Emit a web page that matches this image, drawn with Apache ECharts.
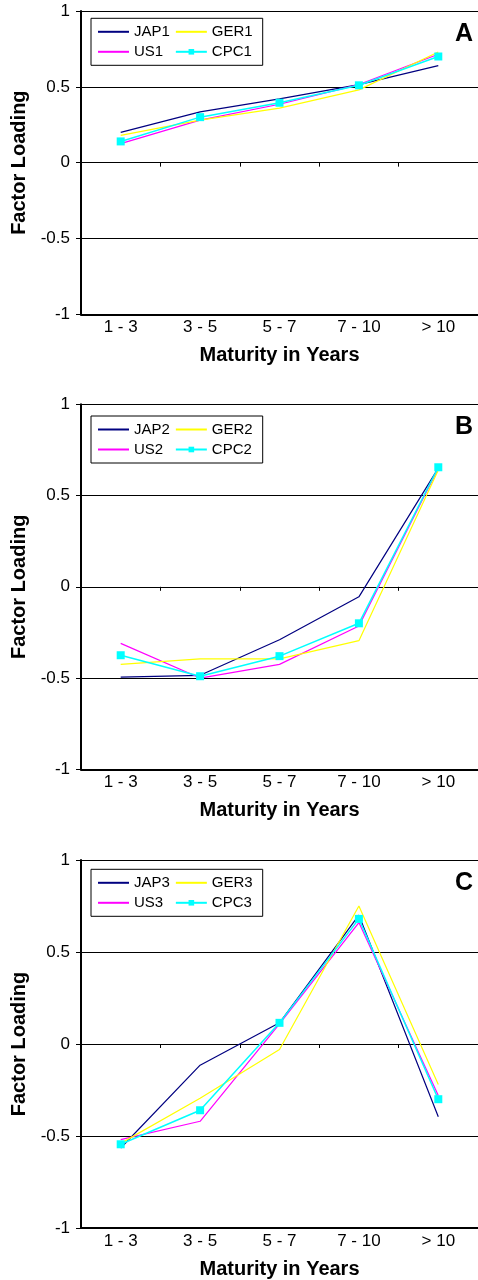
<!DOCTYPE html>
<html>
<head>
<meta charset="utf-8">
<script src="https://cdn.jsdelivr.net/npm/echarts@6/dist/echarts.min.js"></script>
<style>
html,body{margin:0;padding:0;background:#fff;}
#chart{width:478px;height:1280px;}
</style>
</head>
<body>
<div id="chart"></div>
<script>
const categories = ['1 - 3', '3 - 5', '5 - 7', '7 - 10', '> 10'];
const yTicks = [-1, -0.5, 0, 0.5, 1];
const panelLetters = ['A', 'B', 'C'];

const namesA = ['JAP1', 'US1', 'GER1', 'CPC1'];
const JAP1 = [0.20, 0.335, 0.42, 0.515, 0.64];
const US1  = [0.125, 0.28, 0.385, 0.515, 0.715];
const GER1 = [0.18, 0.28, 0.36, 0.48, 0.73];
const CPC1 = [0.14, 0.30, 0.395, 0.51, 0.70];

const namesB = ['JAP2', 'US2', 'GER2', 'CPC2'];
const JAP2 = [-0.495, -0.485, -0.29, -0.055, 0.65];
const US2  = [-0.31, -0.50, -0.425, -0.215, 0.65];
const GER2 = [-0.425, -0.395, -0.395, -0.295, 0.64];
const CPC2 = [-0.375, -0.49, -0.38, -0.20, 0.655];

const namesC = ['JAP3', 'US3', 'GER3', 'CPC3'];
const JAP3 = [-0.565, -0.115, 0.115, 0.70, -0.395];
const US3  = [-0.52, -0.42, 0.11, 0.66, -0.28];
const GER3 = [-0.54, -0.295, -0.03, 0.75, -0.22];
const CPC3 = [-0.545, -0.36, 0.115, 0.68, -0.30];

const colors = ['#000080', '#FF00FF', '#FFFF00', '#00FFFF'];
const FONT = '"Liberation Sans", Arial, sans-serif';

const panels = [
  { names: namesA, data: [JAP1, US1, GER1, CPC1], top: 11, height: 303.3, legendTop: 18.3 },
  { names: namesB, data: [JAP2, US2, GER2, CPC2], top: 404.3, height: 365, legendTop: 416 },
  { names: namesC, data: [JAP3, US3, GER3, CPC3], top: 860, height: 368, legendTop: 869.3 }
];

const grid = [], xAxis = [], yAxis = [], series = [], legend = [], title = [];
panels.forEach((p, i) => {
  grid.push({ left: 81, width: 405, top: p.top, height: p.height });
  xAxis.push({
    type: 'category', gridIndex: i, data: categories, boundaryGap: true,
    axisLine: { onZero: true, lineStyle: { color: '#000', width: 1 } },
    axisTick: { show: true, length: 4, lineStyle: { color: '#000' } },
    axisLabel: { show: false }, splitLine: { show: false }
  });
  xAxis.push({
    type: 'category', gridIndex: i, data: categories, position: 'bottom', boundaryGap: true,
    axisLine: { onZero: false, show: true, lineStyle: { color: '#000', width: 2 } },
    axisTick: { show: false },
    axisLabel: { show: true, margin: 5, fontSize: 17, color: '#000', fontFamily: FONT },
    name: 'Maturity in Years', nameLocation: 'middle', nameGap: 31,
    nameTextStyle: { fontSize: 20, fontWeight: 'bold', color: '#000', fontFamily: FONT },
    splitLine: { show: false }
  });
  yAxis.push({
    type: 'value', gridIndex: i, min: yTicks[0], max: yTicks[yTicks.length - 1], interval: 0.5,
    axisLine: { show: true, lineStyle: { color: '#000', width: 2 } },
    axisTick: { show: true, length: 5, lineStyle: { color: '#000' } },
    axisLabel: { fontSize: 17, color: '#000', margin: 11, fontFamily: FONT,
      formatter: v => String(v) },
    splitLine: { show: true, lineStyle: { color: '#000', width: 1 } },
    name: 'Factor Loading', nameLocation: 'middle', nameGap: 52,
    nameTextStyle: { fontSize: 20, fontWeight: 'bold', color: '#000', fontFamily: FONT }
  });
  p.names.forEach((n, k) => {
    const isCPC = k === 3;
    series.push({
      name: n, type: 'line', xAxisIndex: i * 2, yAxisIndex: i, data: p.data[k],
      symbol: isCPC ? 'rect' : 'none', symbolSize: 8, showSymbol: isCPC,
      lineStyle: { color: colors[k], width: isCPC ? 1.5 : 1.2 },
      itemStyle: { color: colors[k] },
      animation: false, silent: true, z: 2 + k
    });
  });
  legend.push({
    data: p.names.map((n, k) => k === 3 ? { name: n } : { name: n, itemStyle: { opacity: 0 } }),
    orient: 'vertical', left: 91, top: p.legendTop, height: 36,
    itemWidth: 31, itemHeight: 7, itemGap: 5, padding: [6, 10, 6, 6],
    borderColor: '#000', borderWidth: 1, backgroundColor: '#fff',
    textStyle: { fontSize: 15, color: '#000', fontFamily: FONT, width: 42 },
    selectedMode: false
  });
  title.push({
    text: panelLetters[i], right: 5, top: p.top + 10.5, padding: 0,
    textStyle: { fontSize: 25, fontWeight: 'bold', color: '#000', fontFamily: FONT }
  });
});

const chart = echarts.init(document.getElementById('chart'), null, { renderer: 'canvas' });
chart.setOption({
  animation: false, backgroundColor: '#fff',
  title, grid, xAxis, yAxis, series, legend
});
</script>
</body>
</html>
